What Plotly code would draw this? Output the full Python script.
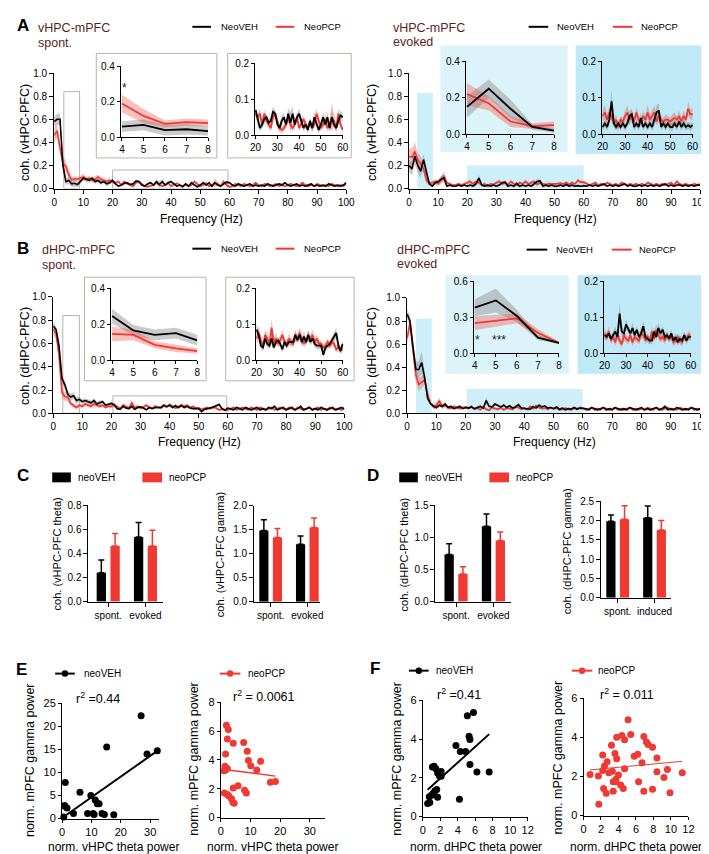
import numpy as np
import plotly.graph_objects as go

W, H = 709, 854
FONT = "Liberation Sans, Arial, Helvetica, sans-serif"
BLACK = "#000000"
RED = "#ee3a32"
GRAY_BAND = "rgba(130,130,130,0.42)"
RED_BAND = "rgba(238,58,50,0.32)"
TITLE_COLOR = "#5c1e1e"
BOX_GRAY = "#bcb2ac"
CYAN_LIGHT = "#dcf3fa"
CYAN_DARK = "#bfe9f6"
CYAN_MAIN = "#cdeff9"

# ---------------- DATA ----------------
freq = list(range(101))

# A: vHPC-mPFC spontaneous
vs_veh = [0.58,0.60,0.60,0.20,0.06,0.07,0.04,0.045,0.035,0.06,
          0.09,0.08,0.07,0.09,0.06,0.07,0.05,0.06,0.04,0.05,
          0.07,0.04,0.02,0.03,0.045,0.05,0.035,0.04,0.065,0.06,
          0.03,0.02,0.04,0.05,0.03,0.06,0.035,0.06,0.03,0.05,
          0.06,0.04,0.02,0.03,0.015,0.04,0.02,0.05,0.03,0.015,
          0.03,0.05,0.03,0.05,0.02,0.05,0.03,0.02,0.04,0.055,
          0.05,0.03,0.02,0.04,0.03,0.02,0.03,0.04,0.02,0.03,
          0.02,0.03,0.02,0.04,0.03,0.02,0.03,0.04,0.03,0.05,
          0.03,0.02,0.03,0.04,0.02,0.03,0.02,0.03,0.04,0.02,
          0.03,0.02,0.03,0.02,0.04,0.03,0.02,0.03,0.02,0.03,
          0.05]
vs_pcp = [0.46,0.50,0.35,0.22,0.19,0.12,0.075,0.085,0.08,0.09,
          0.10,0.08,0.09,0.07,0.08,0.10,0.08,0.07,0.06,0.07,
          0.06,0.05,0.06,0.03,0.06,0.04,0.03,0.02,0.05,0.06,
          0.04,0.02,0.015,0.02,0.03,0.05,0.03,0.02,0.03,0.05,
          0.02,0.035,0.045,0.03,0.02,0.035,0.02,0.03,0.06,0.04,
          0.02,0.03,0.045,0.02,0.03,0.05,0.04,0.02,0.06,0.03,
          0.015,0.02,0.04,0.03,0.02,0.04,0.03,0.02,0.03,0.05,
          0.03,0.02,0.04,0.03,0.02,0.03,0.04,0.02,0.03,0.02,
          0.03,0.04,0.03,0.02,0.03,0.05,0.03,0.02,0.03,0.02,
          0.04,0.03,0.02,0.03,0.02,0.04,0.03,0.02,0.03,0.02,
          0.04]
vs_veh_sem = [0.04,0.05,0.05,0.05,0.03,0.03,0.03,0.03,0.025,0.02,
              0.02,0.02,0.02,0.015,0.02,0.015,0.02,0.015,0.02,0.015,
              0.015,0.01,0.01,0.01,0.015,0.01,0.01,0.01,0.015,0.01,
              0.01,0.01,0.015,0.01,0.01,0.015,0.03,0.02,0.01,0.01,
              0.015,0.01,0.01,0.01,0.01,0.01,0.01,0.015,0.01,0.01,
              0.01,0.015,0.01,0.015,0.01,0.02,0.01,0.01,0.015,0.015,
              0.01,0.01,0.01,0.015,0.01,0.01,0.01,0.01,0.01,0.01,
              0.01,0.01,0.015,0.01,0.01,0.01,0.01,0.01,0.015,0.01,
              0.01,0.01,0.01,0.01,0.01,0.01,0.01,0.015,0.01,0.01,
              0.01,0.01,0.01,0.01,0.015,0.01,0.01,0.01,0.01,0.01,
              0.015]
vs_pcp_sem = [0.07,0.06,0.05,0.05,0.05,0.04,0.02,0.02,0.02,0.02,
              0.03,0.02,0.02,0.02,0.03,0.02,0.02,0.02,0.02,0.02,
              0.015,0.01,0.015,0.01,0.01,0.01,0.01,0.01,0.015,0.01,
              0.01,0.01,0.01,0.01,0.01,0.015,0.01,0.01,0.01,0.015,
              0.01,0.01,0.01,0.01,0.01,0.01,0.01,0.01,0.015,0.01,
              0.01,0.01,0.015,0.01,0.01,0.04,0.015,0.01,0.015,0.01,
              0.01,0.01,0.01,0.01,0.01,0.01,0.01,0.01,0.015,0.01,
              0.01,0.01,0.01,0.01,0.01,0.01,0.01,0.01,0.01,0.01,
              0.01,0.01,0.01,0.01,0.01,0.015,0.01,0.01,0.01,0.01,
              0.01,0.01,0.01,0.01,0.01,0.01,0.01,0.01,0.01,0.01,
              0.01]

# A: vHPC-mPFC evoked
ve_veh = [0.20,0.17,0.28,0.20,0.15,0.25,0.14,0.04,0.02,0.05,
          0.06,0.08,0.09,0.02,0.03,0.02,0.02,0.03,0.02,0.03,
          0.02,0.03,0.02,0.04,0.09,0.03,0.02,0.03,0.02,0.03,
          0.02,0.03,0.05,0.055,0.02,0.03,0.02,0.045,0.02,0.03,
          0.02,0.03,0.02,0.04,0.06,0.065,0.02,0.03,0.02,0.03,
          0.02,0.02,0.03,0.02,0.035,0.02,0.03,0.02,0.025,0.02,
          0.025,0.02,0.03,0.02,0.03,0.02,0.03,0.04,0.02,0.03,
          0.02,0.03,0.02,0.03,0.04,0.02,0.03,0.02,0.02,0.03,
          0.02,0.03,0.02,0.03,0.02,0.03,0.02,0.03,0.04,0.02,
          0.03,0.02,0.03,0.03,0.02,0.03,0.02,0.03,0.02,0.03,
          0.03]
ve_pcp = [0.28,0.27,0.32,0.25,0.22,0.17,0.07,0.045,0.05,0.06,
          0.04,0.07,0.11,0.05,0.04,0.03,0.03,0.04,0.03,0.04,
          0.05,0.06,0.04,0.06,0.05,0.03,0.04,0.02,0.04,0.035,
          0.05,0.06,0.04,0.05,0.035,0.06,0.04,0.03,0.05,0.04,
          0.06,0.04,0.05,0.06,0.035,0.05,0.04,0.035,0.04,0.04,
          0.035,0.04,0.045,0.04,0.05,0.035,0.05,0.04,0.07,0.055,
          0.055,0.04,0.03,0.04,0.05,0.03,0.04,0.03,0.05,0.04,
          0.03,0.04,0.03,0.05,0.04,0.03,0.04,0.03,0.04,0.03,
          0.04,0.03,0.05,0.04,0.03,0.04,0.03,0.04,0.03,0.04,
          0.05,0.03,0.06,0.04,0.03,0.04,0.03,0.03,0.04,0.03,
          0.04]
ve_veh_sem = [0.05,0.06,0.07,0.06,0.06,0.05,0.05,0.015,0.01,0.02,
              0.02,0.03,0.03,0.01,0.01,0.01,0.01,0.01,0.01,0.01,
              0.01,0.01,0.01,0.015,0.03,0.01,0.01,0.01,0.01,0.01,
              0.01,0.01,0.015,0.015,0.01,0.01,0.01,0.015,0.01,0.01,
              0.01,0.01,0.01,0.015,0.02,0.02,0.01,0.01,0.01,0.01,
              0.01,0.01,0.01,0.01,0.01,0.01,0.01,0.01,0.01,0.01,
              0.01,0.01,0.01,0.01,0.01,0.01,0.01,0.01,0.01,0.01,
              0.01,0.01,0.01,0.01,0.01,0.01,0.01,0.01,0.01,0.01,
              0.01,0.01,0.01,0.01,0.01,0.01,0.01,0.01,0.01,0.01,
              0.01,0.01,0.01,0.01,0.01,0.01,0.01,0.01,0.01,0.01,
              0.01]
ve_pcp_sem = [0.07,0.08,0.08,0.06,0.06,0.04,0.03,0.015,0.02,0.02,
              0.02,0.03,0.04,0.02,0.01,0.01,0.01,0.01,0.01,0.01,
              0.015,0.02,0.015,0.015,0.015,0.01,0.015,0.01,0.01,0.01,
              0.015,0.02,0.015,0.015,0.01,0.015,0.015,0.01,0.015,0.01,
              0.02,0.015,0.015,0.02,0.01,0.015,0.01,0.01,0.015,0.01,
              0.01,0.015,0.015,0.01,0.015,0.01,0.015,0.01,0.02,0.015,
              0.015,0.01,0.01,0.01,0.015,0.01,0.01,0.01,0.015,0.01,
              0.01,0.01,0.01,0.015,0.01,0.01,0.01,0.01,0.01,0.01,
              0.01,0.01,0.015,0.01,0.01,0.01,0.01,0.01,0.01,0.01,
              0.015,0.01,0.02,0.01,0.01,0.01,0.01,0.01,0.01,0.01,
              0.01]

# B: dHPC-mPFC spontaneous
ds_veh = [0.75,0.72,0.58,0.30,0.245,0.165,0.14,0.15,0.11,0.12,
          0.10,0.11,0.10,0.09,0.11,0.08,0.09,0.10,0.07,0.08,
          0.085,0.07,0.04,0.035,0.06,0.045,0.04,0.06,0.035,0.05,
          0.055,0.045,0.03,0.05,0.04,0.05,0.05,0.05,0.07,0.055,
          0.07,0.05,0.065,0.05,0.07,0.05,0.06,0.045,0.04,0.04,
          0.04,0.015,0.035,0.04,0.045,0.055,0.065,0.075,0.04,0.025,
          0.045,0.04,0.03,0.05,0.04,0.03,0.05,0.04,0.03,0.04,
          0.05,0.03,0.04,0.03,0.05,0.04,0.06,0.03,0.04,0.05,
          0.03,0.04,0.05,0.03,0.04,0.06,0.03,0.04,0.05,0.03,
          0.04,0.03,0.05,0.04,0.03,0.04,0.05,0.03,0.04,0.05,
          0.04]
ds_pcp = [0.72,0.68,0.50,0.18,0.145,0.14,0.085,0.065,0.05,0.07,
          0.06,0.08,0.07,0.06,0.08,0.07,0.06,0.07,0.05,0.06,
          0.06,0.075,0.055,0.04,0.07,0.06,0.045,0.09,0.05,0.06,
          0.045,0.055,0.07,0.05,0.045,0.06,0.05,0.045,0.065,0.06,
          0.075,0.06,0.045,0.055,0.065,0.06,0.07,0.05,0.06,0.045,
          0.045,0.035,0.04,0.05,0.04,0.05,0.045,0.03,0.035,0.03,
          0.03,0.04,0.05,0.03,0.04,0.05,0.04,0.03,0.05,0.04,
          0.03,0.05,0.04,0.03,0.04,0.05,0.03,0.04,0.05,0.04,
          0.03,0.05,0.04,0.03,0.05,0.04,0.03,0.04,0.05,0.03,
          0.04,0.05,0.03,0.04,0.03,0.05,0.04,0.03,0.04,0.03,
          0.04]
ds_veh_sem = [0.03,0.03,0.04,0.04,0.04,0.03,0.03,0.03,0.03,0.02,
              0.02,0.02,0.02,0.02,0.02,0.02,0.02,0.015,0.015,0.015,
              0.015,0.015,0.01,0.01,0.015,0.01,0.01,0.015,0.01,0.01,
              0.01,0.01,0.01,0.01,0.01,0.01,0.01,0.01,0.015,0.01,
              0.015,0.01,0.015,0.01,0.015,0.01,0.01,0.01,0.01,0.01,
              0.01,0.01,0.01,0.01,0.01,0.01,0.015,0.015,0.01,0.01,
              0.01,0.01,0.01,0.01,0.01,0.01,0.01,0.01,0.01,0.01,
              0.01,0.01,0.01,0.01,0.01,0.01,0.015,0.01,0.01,0.01,
              0.01,0.01,0.01,0.01,0.01,0.015,0.01,0.01,0.01,0.01,
              0.01,0.01,0.01,0.01,0.01,0.01,0.01,0.01,0.01,0.01,
              0.01]
ds_pcp_sem = [0.04,0.04,0.05,0.04,0.04,0.03,0.02,0.02,0.015,0.015,
              0.015,0.02,0.015,0.015,0.02,0.015,0.015,0.015,0.01,0.01,
              0.015,0.02,0.015,0.01,0.015,0.015,0.01,0.025,0.01,0.015,
              0.01,0.015,0.015,0.01,0.01,0.015,0.01,0.01,0.015,0.01,
              0.015,0.015,0.01,0.01,0.015,0.01,0.015,0.01,0.01,0.01,
              0.01,0.01,0.01,0.01,0.01,0.01,0.01,0.01,0.01,0.01,
              0.01,0.01,0.01,0.01,0.01,0.01,0.01,0.01,0.01,0.01,
              0.01,0.01,0.01,0.01,0.01,0.01,0.01,0.01,0.01,0.01,
              0.01,0.01,0.01,0.01,0.01,0.01,0.01,0.01,0.01,0.01,
              0.01,0.01,0.01,0.01,0.01,0.01,0.01,0.01,0.01,0.01,
              0.01]

# B: dHPC-mPFC evoked
de_veh = [0.86,0.80,0.58,0.38,0.38,0.44,0.31,0.13,0.085,0.06,
          0.05,0.07,0.06,0.08,0.05,0.06,0.04,0.05,0.06,0.04,
          0.05,0.045,0.055,0.04,0.05,0.06,0.045,0.11,0.06,0.055,
          0.08,0.065,0.055,0.07,0.05,0.065,0.045,0.055,0.075,0.045,
          0.04,0.035,0.035,0.06,0.045,0.07,0.055,0.065,0.045,0.05,
          0.04,0.055,0.035,0.045,0.03,0.04,0.035,0.05,0.035,0.045,
          0.045,0.04,0.03,0.05,0.04,0.03,0.04,0.05,0.03,0.04,
          0.03,0.05,0.04,0.03,0.04,0.03,0.05,0.04,0.03,0.04,
          0.05,0.03,0.04,0.03,0.04,0.05,0.03,0.04,0.06,0.03,
          0.04,0.03,0.05,0.04,0.03,0.04,0.03,0.05,0.04,0.03,
          0.04]
de_pcp = [0.65,0.78,0.55,0.33,0.25,0.27,0.29,0.17,0.085,0.06,
          0.07,0.11,0.06,0.07,0.05,0.04,0.06,0.05,0.04,0.05,
          0.055,0.045,0.06,0.035,0.045,0.03,0.055,0.035,0.025,0.05,
          0.04,0.035,0.05,0.03,0.045,0.04,0.035,0.055,0.05,0.035,
          0.045,0.035,0.06,0.04,0.065,0.05,0.04,0.045,0.035,0.05,
          0.04,0.045,0.03,0.035,0.045,0.035,0.03,0.045,0.04,0.05,
          0.045,0.03,0.04,0.05,0.03,0.04,0.03,0.05,0.04,0.03,
          0.04,0.05,0.03,0.04,0.03,0.04,0.05,0.03,0.04,0.03,
          0.04,0.03,0.05,0.04,0.03,0.05,0.04,0.03,0.04,0.05,
          0.03,0.04,0.03,0.05,0.04,0.03,0.04,0.05,0.03,0.04,
          0.03]
de_veh_sem = [0.04,0.05,0.06,0.07,0.07,0.10,0.05,0.02,0.01,0.02,
              0.02,0.02,0.02,0.02,0.015,0.015,0.01,0.015,0.015,0.01,
              0.01,0.01,0.01,0.01,0.01,0.015,0.01,0.03,0.015,0.01,
              0.015,0.01,0.01,0.015,0.01,0.01,0.01,0.01,0.015,0.01,
              0.01,0.01,0.01,0.01,0.01,0.015,0.01,0.01,0.01,0.01,
              0.01,0.01,0.01,0.01,0.01,0.01,0.01,0.01,0.01,0.01,
              0.01,0.01,0.01,0.01,0.01,0.01,0.01,0.01,0.01,0.01,
              0.01,0.01,0.01,0.01,0.01,0.01,0.01,0.01,0.01,0.01,
              0.01,0.01,0.01,0.01,0.01,0.01,0.01,0.01,0.015,0.01,
              0.01,0.01,0.01,0.01,0.01,0.01,0.01,0.01,0.01,0.01,
              0.01]
de_pcp_sem = [0.06,0.05,0.06,0.06,0.06,0.05,0.04,0.03,0.01,0.02,
              0.02,0.03,0.02,0.02,0.015,0.01,0.015,0.01,0.01,0.01,
              0.015,0.01,0.015,0.01,0.01,0.01,0.015,0.01,0.01,0.015,
              0.01,0.01,0.015,0.01,0.01,0.01,0.01,0.015,0.01,0.01,
              0.01,0.01,0.015,0.01,0.015,0.01,0.01,0.01,0.01,0.01,
              0.01,0.01,0.01,0.01,0.01,0.01,0.01,0.01,0.01,0.01,
              0.01,0.01,0.01,0.01,0.01,0.01,0.01,0.01,0.01,0.01,
              0.01,0.01,0.01,0.01,0.01,0.01,0.01,0.01,0.01,0.01,
              0.01,0.01,0.01,0.01,0.01,0.01,0.01,0.01,0.01,0.01,
              0.01,0.01,0.01,0.01,0.01,0.01,0.01,0.01,0.01,0.01,
              0.01]

# C / D bar charts
bar_groups = ["spont.", "evoked"]
bar_groups_d2 = ["spont.", "induced"]
c_theta_veh = [0.24, 0.535]; c_theta_veh_err = [0.105, 0.12]
c_theta_pcp = [0.46, 0.46];  c_theta_pcp_err = [0.105, 0.13]
c_gamma_veh = [1.49, 1.20];  c_gamma_veh_err = [0.22, 0.17]
c_gamma_pcp = [1.34, 1.55];  c_gamma_pcp_err = [0.19, 0.20]
d_theta_veh = [0.73, 1.17];  d_theta_veh_err = [0.17, 0.19]
d_theta_pcp = [0.43, 0.95];  d_theta_pcp_err = [0.11, 0.13]
d_gamma_veh = [1.98, 2.07];  d_gamma_veh_err = [0.16, 0.30]
d_gamma_pcp = [2.03, 1.75];  d_gamma_pcp_err = [0.35, 0.25]

# E / F scatter
e_veh_x = [0.6, 1.1, 1.1, 1.7, 0.9, 3.9, 6.1, 8.7, 9.8, 10.6, 10.9, 11.3, 12.0, 12.6, 13.6, 14.4, 15.2, 17.6, 26.9, 28.9, 32.4]
e_veh_y = [0.35, 7.8, 2.6, 2.3, 2.8, 1.1, 5.7, 1.1, 5.0, 1.1, 0.85, 4.0, 3.2, 3.2, 1.1, 0.85, 15.5, 0.8, 22.3, 14.0, 14.7]
e_pcp_x = [1.9, 2.5, 2.2, 4.2, 1.6, 7.7, 8.9, 9.3, 10.1, 13.4, 12.1, 1.4, 1.6, 1.1, 2.2, 1.2, 2.2, 2.7, 3.6, 4.1, 4.2, 5.8, 8.0, 8.6, 16.7, 18.4, 4.5]
e_pcp_y = [6.4, 6.1, 5.45, 5.15, 4.4, 5.2, 4.6, 3.95, 3.6, 3.9, 3.3, 3.55, 3.3, 3.25, 3.4, 1.7, 1.6, 1.5, 1.3, 1.05, 2.05, 2.2, 1.9, 1.7, 2.45, 2.5, 1.0]
f_veh_x = [0.56, 0.8, 0.75, 1.0, 1.2, 1.4, 1.6, 1.7, 1.3, 1.1, 1.5, 1.7, 2.1, 2.1, 1.9, 3.8, 4.3, 4.9, 4.2, 5.1, 5.8, 5.3, 5.4, 5.4, 6.2, 7.6]
f_veh_y = [0.68, 0.72, 1.02, 1.1, 1.2, 1.33, 1.4, 1.0, 2.6, 2.55, 2.47, 2.25, 2.33, 2.08, 2.1, 3.66, 3.36, 3.36, 0.89, 5.2, 5.37, 4.14, 3.97, 2.69, 2.3, 2.3]
f_pcp_x = [0.75, 1.7, 1.75, 2.2, 2.4, 2.2, 2.3, 2.6, 2.7, 2.9, 3.2, 3.3, 3.4, 3.4, 3.6, 3.8, 3.7, 3.7, 4.0, 3.8, 4.4, 4.25,
           4.55, 4.7, 4.7, 5.1, 5.4, 5.8, 6.2, 6.3, 6.7, 6.9, 6.9, 7.2, 7.4, 7.9, 7.9, 8.4, 8.4, 9.2, 9.6, 9.9, 11.3]
f_pcp_y = [2.1, 2.03, 0.58, 3.1, 2.54, 2.3, 1.39, 1.14, 2.75, 2.19, 3.6, 2.27, 1.73, 1.25, 3.17, 2.9, 1.86, 1.73, 2.07, 4.0, 4.1, 1.56,
           1.39, 3.88, 2.4, 4.9, 4.15, 3.03, 3.14, 1.73, 2.7, 4.05, 1.25, 3.76, 3.64, 3.5, 1.34, 2.95, 2.24, 1.95, 2.36, 1.17, 2.19]

for _name, _arr in [("vs_veh", vs_veh), ("vs_pcp", vs_pcp), ("vs_veh_sem", vs_veh_sem), ("vs_pcp_sem", vs_pcp_sem),
                    ("ve_veh", ve_veh), ("ve_pcp", ve_pcp), ("ve_veh_sem", ve_veh_sem), ("ve_pcp_sem", ve_pcp_sem),
                    ("ds_veh", ds_veh), ("ds_pcp", ds_pcp), ("ds_veh_sem", ds_veh_sem), ("ds_pcp_sem", ds_pcp_sem),
                    ("de_veh", de_veh), ("de_pcp", de_pcp), ("de_veh_sem", de_veh_sem), ("de_pcp_sem", de_pcp_sem)]:
    if len(_arr) != 101:
        raise ValueError("%s has %d values" % (_name, len(_arr)))

# ---------------- FIGURE ----------------
fig = go.Figure()
layout_axes = {}
shapes = []
annotations = []
n_axes = [0]


def X(p):
    return p / W


def Y(p):
    return 1 - p / H


def add_axes(x0, x1, ytop, ybot, xr, yr, xtickvals=None, ytickvals=None, yfmt=None,
             tick_size=10, ticklen=4, xcat=False):
    n_axes[0] += 1
    n = n_axes[0]
    s = "" if n == 1 else str(n)
    base = dict(showline=True, linecolor=BLACK, linewidth=1, ticks="outside", ticklen=ticklen,
                tickwidth=1, tickcolor=BLACK, showgrid=False, zeroline=False, fixedrange=True,
                tickfont=dict(family=FONT, size=tick_size, color=BLACK))
    xa = dict(base, domain=[X(x0), X(x1)], range=xr, anchor="y" + s)
    if xtickvals is not None:
        xa["tickvals"] = xtickvals
    if xcat:
        xa["type"] = "category"
    ya = dict(base, domain=[Y(ybot), Y(ytop)], range=yr, anchor="x" + s, tickvals=ytickvals)
    if yfmt:
        ya["tickformat"] = yfmt
    layout_axes["xaxis" + s] = xa
    layout_axes["yaxis" + s] = ya
    return "x" + s, "y" + s


def band_trace(ax, f, m, s, color):
    m = np.array(m, dtype=float)
    s = np.array(s, dtype=float)
    up = m + s
    lo = np.clip(m - s, 0, None)
    return go.Scatter(x=list(f) + list(f)[::-1], y=list(up) + list(lo[::-1]), fill="toself",
                      fillcolor=color, line=dict(width=0), mode="lines", xaxis=ax[0], yaxis=ax[1],
                      hoverinfo="skip", showlegend=False)


def spectra(ax, lo, hi, veh, vsem, pcp, psem, lw):
    f = freq[lo:hi + 1]
    sl = slice(lo, hi + 1)
    fig.add_trace(band_trace(ax, f, veh[sl], vsem[sl], GRAY_BAND))
    fig.add_trace(band_trace(ax, f, pcp[sl], psem[sl], RED_BAND))
    fig.add_trace(go.Scatter(x=f, y=pcp[sl], mode="lines", line=dict(color=RED, width=lw),
                             xaxis=ax[0], yaxis=ax[1], showlegend=False, name="NeoPCP"))
    fig.add_trace(go.Scatter(x=f, y=veh[sl], mode="lines", line=dict(color=BLACK, width=lw),
                             xaxis=ax[0], yaxis=ax[1], showlegend=False, name="NeoVEH"))


def ann(text, x, y, size, color=BLACK, xanchor="left", bold=False, angle=0, yanchor="middle"):
    annotations.append(dict(text=("<b>%s</b>" % text) if bold else text, x=X(x), y=Y(y),
                            xref="paper", yref="paper", xanchor=xanchor, yanchor=yanchor,
                            showarrow=False, font=dict(family=FONT, size=size, color=color),
                            textangle=angle))


def ann_data(text, ax, x, y, size):
    annotations.append(dict(text=text, x=x, y=y, xref=ax[0], yref=ax[1], xanchor="center",
                            yanchor="middle", showarrow=False,
                            font=dict(family=FONT, size=size, color="#222222")))


def paper_rect(x0, y0, x1, y1, fill=None, line=None):
    shapes.append(dict(type="rect", xref="paper", yref="paper", x0=X(x0), x1=X(x1), y0=Y(y1), y1=Y(y0),
                       fillcolor=fill if fill else "rgba(0,0,0,0)",
                       line=dict(color=line if line else "rgba(0,0,0,0)", width=1 if line else 0),
                       layer="below"))


def data_rect(ax, x0, x1, y1, fill=None, line=None):
    shapes.append(dict(type="rect", xref=ax[0], yref=ax[1], x0=x0, x1=x1, y0=0, y1=y1,
                       fillcolor=fill if fill else "rgba(0,0,0,0)",
                       line=dict(color=line if line else "rgba(0,0,0,0)", width=1 if line else 0),
                       layer="below"))


def legend_line(x0, x1, y, color, text, tx, size=9.5, dot=False):
    shapes.append(dict(type="line", xref="paper", yref="paper", x0=X(x0), x1=X(x1), y0=Y(y), y1=Y(y),
                       line=dict(color=color, width=2)))
    if dot:
        c = (x0 + x1) / 2
        shapes.append(dict(type="circle", xref="paper", yref="paper", x0=X(c - 3.3), x1=X(c + 3.3),
                           y0=Y(y + 3.3), y1=Y(y - 3.3), fillcolor=color, line=dict(color=color, width=0)))
    ann(text, tx, y, size)


def legend_square(x0, x1, y, color, text, tx):
    shapes.append(dict(type="rect", xref="paper", yref="paper", x0=X(x0), x1=X(x1), y0=Y(y + 5), y1=Y(y - 5),
                       fillcolor=color, line=dict(width=0)))
    ann(text, tx, y, 10)


main_x = list(range(0, 101, 10))
main_y = [0, 0.2, 0.4, 0.6, 0.8, 1.0]
theta_x = [4, 5, 6, 7, 8]
gamma_x = [20, 30, 40, 50, 60]

# ---- Panel A left (spont) ----
axm = add_axes(42, 340, 60, 177, [0, 100], [0, 1.0], main_x, main_y, ".1f")
ai1 = add_axes(110, 199, 53, 125, [3.95, 8], [0, 0.4], theta_x, [0, 0.2, 0.4], ".1f", ticklen=3)
ai2 = add_axes(247, 337, 50, 123, [19.8, 60.3], [0, 0.2], gamma_x, [0, 0.1, 0.2], ".1f", ticklen=3)
spectra(axm, 0, 100, vs_veh, vs_veh_sem, vs_pcp, vs_pcp_sem, 1.6)
spectra(ai1, 4, 8, vs_veh, vs_veh_sem, vs_pcp, vs_pcp_sem, 1.8)
spectra(ai2, 20, 60, vs_veh, vs_veh_sem, vs_pcp, vs_pcp_sem, 1.8)
data_rect(axm, 3.3, 8.7, 0.84, line=BOX_GRAY)
data_rect(axm, 20, 59.5, 0.16, line=BOX_GRAY)
paper_rect(85, 40, 208, 146, line=BOX_GRAY)
paper_rect(219, 40, 345, 146, line=BOX_GRAY)
ann_data("*", ai1, 4.13, 0.28, 12)

# ---- Panel A right (evoked) ----
bxm = add_axes(404, 701, 60, 177, [0, 100], [0, 1.0], main_x, main_y, ".1f")
bi1 = add_axes(462, 552, 48, 122, [3.95, 8], [0, 0.4], theta_x, [0, 0.2, 0.4], ".1f", ticklen=3)
bi2 = add_axes(601, 694, 48, 122, [19.8, 60.3], [0, 0.2], gamma_x, [0, 0.1, 0.2], ".1f", ticklen=3)
spectra(bxm, 0, 100, ve_veh, ve_veh_sem, ve_pcp, ve_pcp_sem, 1.6)
spectra(bi1, 4, 8, ve_veh, ve_veh_sem, ve_pcp, ve_pcp_sem, 1.8)
spectra(bi2, 20, 60, ve_veh, ve_veh_sem, ve_pcp, ve_pcp_sem, 1.8)
data_rect(bxm, 2.8, 8.2, 0.83, fill=CYAN_MAIN)
data_rect(bxm, 20, 60, 0.2, fill=CYAN_MAIN)
paper_rect(436, 32, 566, 140, fill=CYAN_LIGHT)
paper_rect(574, 32, 706, 142, fill=CYAN_DARK)

# ---- Panel B left (spont) ----
cxm = add_axes(41, 338, 287, 405, [0, 100], [0, 1.0], main_x, main_y, ".1f")
ci1 = add_axes(100, 188, 278, 351, [3.95, 8], [0, 0.4], theta_x, [0, 0.2, 0.4], ".1f", ticklen=3)
ci2 = add_axes(248, 337, 278, 351, [19.8, 60.3], [0, 0.2], gamma_x, [0, 0.1, 0.2], ".1f", ticklen=3)
spectra(cxm, 0, 100, ds_veh, ds_veh_sem, ds_pcp, ds_pcp_sem, 1.6)
spectra(ci1, 4, 8, ds_veh, ds_veh_sem, ds_pcp, ds_pcp_sem, 1.8)
spectra(ci2, 20, 60, ds_veh, ds_veh_sem, ds_pcp, ds_pcp_sem, 1.8)
data_rect(cxm, 3.3, 9.0, 0.84, line=BOX_GRAY)
data_rect(cxm, 20.5, 59.6, 0.15, line=BOX_GRAY)
paper_rect(73, 267, 197, 372, line=BOX_GRAY)
paper_rect(217, 267, 348, 372, line=BOX_GRAY)

# ---- Panel B right (evoked) ----
dxm = add_axes(402, 701, 288, 405, [0, 100], [0, 1.0], main_x, main_y, ".1f")
di1 = add_axes(470, 557, 271, 344, [3.95, 8], [0, 0.6], theta_x, [0, 0.3, 0.6], ".1f", ticklen=3)
di2 = add_axes(603, 692, 271, 344, [19.8, 60.3], [0, 0.2], gamma_x, [0, 0.1, 0.2], ".1f", ticklen=3)
spectra(dxm, 0, 100, de_veh, de_veh_sem, de_pcp, de_pcp_sem, 1.6)
spectra(di1, 4, 8, de_veh, de_veh_sem, de_pcp, de_pcp_sem, 1.8)
spectra(di2, 20, 60, de_veh, de_veh_sem, de_pcp, de_pcp_sem, 1.8)
data_rect(dxm, 3.0, 8.4, 0.82, fill=CYAN_MAIN)
data_rect(dxm, 20.4, 59.9, 0.21, fill=CYAN_MAIN)
paper_rect(441, 265, 567, 365, fill=CYAN_LIGHT)
paper_rect(576, 265, 702, 365, fill=CYAN_DARK)
ann_data("*", di1, 4.12, 0.11, 12)
ann_data("***", di1, 5.15, 0.11, 12)


# ---- Bars ----
def bars(ax, groups, veh, veh_err, pcp, pcp_err):
    for vals, errs, col, off in [(veh, veh_err, BLACK, -0.31), (pcp, pcp_err, RED, 0.06)]:
        fig.add_trace(go.Bar(x=groups, y=vals, width=0.25, offset=off, xaxis=ax[0], yaxis=ax[1],
                             marker=dict(color=col, line=dict(width=0)), showlegend=False,
                             error_y=dict(type="data", symmetric=False, array=errs, arrayminus=[0] * len(errs),
                                          color=col, thickness=1.5, width=3)))


ex1 = add_axes(77, 153, 498, 596, [-0.53, 1.47], [0, 0.8], None, [0, 0.2, 0.4, 0.6, 0.8], ".1f", xcat=True)
bars(ex1, bar_groups, c_theta_veh, c_theta_veh_err, c_theta_pcp, c_theta_pcp_err)
ex2 = add_axes(246, 313, 499, 596, [-0.45, 1.34], [0, 2.0], None, [0, 0.5, 1.0, 1.5, 2.0], ".1f", xcat=True)
bars(ex2, bar_groups, c_gamma_veh, c_gamma_veh_err, c_gamma_pcp, c_gamma_pcp_err)
ex3 = add_axes(431, 508, 498, 596, [-0.55, 1.47], [0, 1.5], None, [0, 0.5, 1.0, 1.5], ".1f", xcat=True)
bars(ex3, bar_groups, d_theta_veh, d_theta_veh_err, d_theta_pcp, d_theta_pcp_err)
ex4 = add_axes(600, 671, 494, 592, [-0.45, 1.44], [0, 2.5], None, [0, 0.5, 1.0, 1.5, 2.0, 2.5], ".1f", xcat=True)
bars(ex4, bar_groups_d2, d_gamma_veh, d_gamma_veh_err, d_gamma_pcp, d_gamma_pcp_err)


# ---- Scatter ----
def scat(ax, xs, ys, col, lw):
    fig.add_trace(go.Scatter(x=xs, y=ys, mode="markers", marker=dict(color=col, size=7),
                             xaxis=ax[0], yaxis=ax[1], showlegend=False, cliponaxis=False))
    k, b = np.polyfit(xs, ys, 1)
    lx = [min(xs), max(xs)]
    fig.add_trace(go.Scatter(x=lx, y=[k * v + b for v in lx], mode="lines", line=dict(color=col, width=lw),
                             xaxis=ax[0], yaxis=ax[1], showlegend=False))


sx1 = add_axes(50, 149, 699, 816, [0, 33], [0, 25], [0, 10, 20, 30], [0, 5, 10, 15, 20, 25], tick_size=11, ticklen=3)
scat(sx1, e_veh_x, e_veh_y, BLACK, 2)
sx2 = add_axes(212, 318, 698, 815, [0, 35], [0, 8], [0, 10, 20, 30], [0, 2, 4, 6, 8], tick_size=11, ticklen=3)
scat(sx2, e_pcp_x, e_pcp_y, RED, 1.5)
sx3 = add_axes(418, 525, 696, 814, [0, 12], [0, 6], [0, 2, 4, 6, 8, 10, 12], [0, 2, 4, 6], tick_size=11, ticklen=3)
scat(sx3, f_veh_x, f_veh_y, BLACK, 2)
sx4 = add_axes(582, 689, 694, 813, [0, 12], [0, 6], [0, 2, 4, 6, 8, 10, 12], [0, 2, 4, 6], tick_size=11, ticklen=3)
scat(sx4, f_pcp_x, f_pcp_y, RED, 1)

# ---- Text ----
for letter, x, y in [("A", 2, 12), ("B", 2, 238), ("C", 2, 468), ("D", 359, 468), ("E", 1, 665), ("F", 362, 664)]:
    ann(letter, x, y, 17, bold=True)

for txt, x, y in [("vHPC-mPFC", 23, 14), ("spont.", 23, 29), ("vHPC-mPFC", 386, 14), ("evoked", 386, 28),
                  ("dHPC-mPFC", 28, 239), ("spont.", 28, 255), ("dHPC-mPFC", 390, 239), ("evoked", 390, 254)]:
    ann(txt, x, y, 12.5, color=TITLE_COLOR)

for (bx0, bx1, btx, rx0, rx1, rtx, y) in [(183, 202, 210, 268, 287, 295, 13), (526, 546, 553, 612, 632, 639, 13),
                                          (183, 202, 210, 268, 287, 295, 238), (524, 545, 552, 611, 631, 637, 239)]:
    legend_line(bx0, bx1, y, BLACK, "NeoVEH", btx)
    legend_line(rx0, rx1, y, RED, "NeoPCP", rtx)

for x, y in [(192, 208), (553, 208), (190, 434), (552, 434)]:
    ann("Frequency (Hz)", x, y, 12, xanchor="center")

for txt, x, y in [("coh. (vHPC-PFC)", 13, 120), ("coh. (vHPC-PFC)", 367, 120),
                  ("coh. (dHPC-PFC)", 12, 347), ("coh. (dHPC-PFC)", 366, 347)]:
    ann(txt, x, y, 12.5, xanchor="center", angle=-90)

legend_square(40, 59, 470, BLACK, "neoVEH", 64)
legend_square(132, 152, 470, RED, "neoPCP", 157)
legend_square(394, 413, 470, BLACK, "neoVEH", 418)
legend_square(486, 506, 470, RED, "neoPCP", 511)

for txt, x, y in [("coh. (vHPC-PFC theta)", 45, 548), ("coh. (vHPC-PFC gamma)", 211, 548),
                  ("coh. (dHPC-PFC theta)", 399, 548), ("coh. (dHPC-PFC gamma)", 565, 545)]:
    ann(txt, x, y, 11, xanchor="center", angle=-90)

legend_line(43, 63, 669, BLACK, "neoVEH", 70, size=10, dot=True)
legend_line(211, 232, 669, RED, "neoPCP", 238, size=10, dot=True)
legend_line(404, 424, 666, BLACK, "neoVEH", 429, size=10, dot=True)
legend_line(570, 591, 666, RED, "neoPCP", 595, size=10, dot=True)

ann("r<sup>2</sup> =0.44", 62, 694, 12.5)
ann("r<sup>2</sup> = 0.0061", 222, 692, 12.5)
ann("r<sup>2</sup> =0.41", 430, 690, 12.5)
ann("r<sup>2</sup> = 0.011", 597, 690, 12.5)

for txt, x in [("norm. vHPC theta power", 103), ("norm. vHPC theta power", 265),
               ("norm. dHPC theta power", 472), ("norm. dHPC theta power", 636)]:
    ann(txt, x, H, 12, xanchor="center", yanchor="bottom")
for x, y in [(18, 757), (185, 755), (392, 755), (556, 754)]:
    ann("norm. mPFC gamma power", x, y, 12.5, xanchor="center", angle=-90)

fig.update_layout(width=W, height=H, margin=dict(l=0, r=0, t=0, b=0), paper_bgcolor="white",
                  plot_bgcolor="rgba(0,0,0,0)", showlegend=False, barmode="overlay",
                  font=dict(family=FONT, color=BLACK), shapes=shapes, annotations=annotations,
                  **layout_axes)
fig.write_html("out.html")
